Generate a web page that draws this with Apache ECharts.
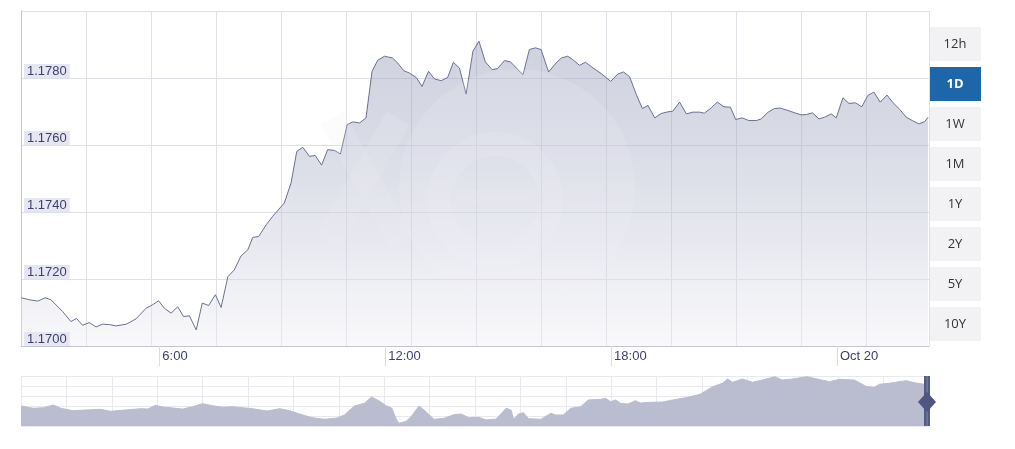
<!DOCTYPE html>
<html>
<head>
<meta charset="utf-8">
<script src="https://cdn.jsdelivr.net/npm/echarts@6/dist/echarts.min.js"></script>
<style>
html,body{margin:0;padding:0;background:#fff;}
#chart{width:1015px;height:449px;}
</style>
</head>
<body>
<div id="chart"></div>
<script>
// Main series: hours since 00:00 Oct 19 and EUR/USD-style rate
const timeHours = [2.33,2.55,2.77,2.97,3.12,3.43,3.65,3.80,3.96,4.14,4.32,4.49,4.67,4.85,5.12,5.38,5.65,5.82,5.98,6.13,6.31,6.49,6.64,6.80,6.98,7.14,7.31,7.49,7.64,7.82,7.99,8.17,8.35,8.48,8.64,8.84,9.01,9.32,9.50,9.65,9.81,9.99,10.14,10.31,10.47,10.65,10.81,10.99,11.14,11.32,11.49,11.65,11.80,11.98,12.19,12.33,12.49,12.64,12.82,12.98,13.15,13.31,13.49,13.66,13.81,13.97,14.15,14.33,14.49,14.66,14.84,14.98,15.17,15.33,15.48,15.66,15.83,15.99,16.14,16.34,16.54,16.68,16.85,16.98,17.16,17.32,17.52,17.74,17.99,18.18,18.33,18.49,18.67,18.83,18.98,19.16,19.33,19.51,19.64,19.82,20.00,20.17,20.35,20.48,20.66,20.82,21.00,21.17,21.31,21.48,21.66,21.86,21.99,22.17,22.34,22.50,22.70,22.88,23.05,23.19,23.35,23.52,23.67,23.85,23.98,24.16,24.32,24.49,24.66,24.82,24.98,25.15,25.33,25.49,25.67,25.84,26.00,26.18,26.33,26.42];
const rates = [1.17144,1.17138,1.17134,1.17144,1.17138,1.17103,1.17073,1.17082,1.17062,1.17070,1.17057,1.17065,1.17064,1.17060,1.17065,1.17081,1.17113,1.17123,1.17135,1.17113,1.17098,1.17117,1.17088,1.17090,1.17048,1.17128,1.17121,1.17153,1.17115,1.17207,1.17227,1.17269,1.17287,1.17324,1.17327,1.17362,1.17387,1.17427,1.17487,1.17581,1.17593,1.17566,1.17569,1.17540,1.17586,1.17584,1.17573,1.17661,1.17669,1.17666,1.17681,1.17820,1.17853,1.17865,1.17860,1.17845,1.17822,1.17815,1.17802,1.17775,1.17820,1.17797,1.17792,1.17802,1.17847,1.17830,1.17752,1.17880,1.17910,1.17848,1.17825,1.17828,1.17852,1.17848,1.17830,1.17810,1.17885,1.17890,1.17885,1.17818,1.17845,1.17860,1.17865,1.17855,1.17838,1.17847,1.17830,1.17813,1.17790,1.17812,1.17818,1.17804,1.17751,1.17709,1.17718,1.17681,1.17694,1.17699,1.17701,1.17728,1.17693,1.17698,1.17698,1.17695,1.17711,1.17728,1.17714,1.17713,1.17676,1.17681,1.17673,1.17673,1.17678,1.17698,1.17709,1.17710,1.17703,1.17696,1.17690,1.17691,1.17696,1.17678,1.17683,1.17693,1.17681,1.17741,1.17724,1.17726,1.17714,1.17748,1.17758,1.17728,1.17749,1.17726,1.17706,1.17683,1.17673,1.17663,1.17670,1.17683];

const xTickHours = [6, 12, 18, 24];
const xTickLabels = ['6:00', '12:00', '18:00', 'Oct 20'];

// Navigator (long history) series
const navDays = [0,5,9,13,16,21,26,32,36,42,48,51,54,57,61,65,69,73,77,81,85,89,93,99,104,108,112,117,122,127,130,134,138,141,144,147,149,151,152,155,157,160,162,166,170,174,177,180,184,187,191,195,197,198,200,202,204,209,213,215,218,221,225,228,233,235,237,239,241,244,247,249,253,258,262,268,273,278,282,284,286,290,294,298,303,306,310,316,320,325,329,335,337,340,343,345,349,353,356,359,363,365];
const navRates = [1.1400,1.1354,1.1366,1.1420,1.1354,1.1306,1.1320,1.1334,1.1294,1.1320,1.1346,1.1340,1.1414,1.1380,1.1360,1.1340,1.1386,1.1446,1.1406,1.1374,1.1386,1.1366,1.1346,1.1300,1.1346,1.1306,1.1240,1.1166,1.1134,1.1160,1.1220,1.1400,1.1454,1.1580,1.1500,1.1400,1.1360,1.1120,1.1054,1.1100,1.1200,1.1400,1.1320,1.1134,1.1154,1.1226,1.1240,1.1166,1.1174,1.1120,1.1140,1.1354,1.1320,1.1134,1.1240,1.1266,1.1146,1.1134,1.1254,1.1220,1.1220,1.1354,1.1386,1.1520,1.1534,1.1554,1.1486,1.1520,1.1454,1.1440,1.1506,1.1460,1.1474,1.1480,1.1520,1.1574,1.1634,1.1786,1.1854,1.1940,1.1874,1.1940,1.1874,1.1920,1.1986,1.1920,1.1940,1.1986,1.1940,1.1886,1.1934,1.1920,1.1866,1.1786,1.1774,1.1834,1.1854,1.1886,1.1906,1.1866,1.1834,1.1834];

const rangeButtons = ['12h', '1D', '1W', '1M', '1Y', '2Y', '5Y', '10Y'];
const activeButton = '1D';

const mainData = timeHours.map((t, i) => [t, rates[i]]);
const navData = navDays.map((d, i) => [d, navRates[i]]);

const chart = echarts.init(document.getElementById('chart'), null, {renderer: 'canvas'});

const gridColor = '#e0e0e7';
const textColor = '#3d3f6c';
const font = 'Liberation Sans, Arial, sans-serif';

const graphics = [];
// Watermark (xe logo, faint)
graphics.push({type: 'circle', silent: true, z: 50, shape: {cx: 517, cy: 187, r: 118}, style: {fill: 'rgba(240,241,247,0.16)'}});
graphics.push({type: 'ring', silent: true, z: 50, shape: {cx: 495, cy: 200, r: 68, r0: 44}, style: {fill: 'rgba(240,241,247,0.16)'}});
graphics.push({type: 'rect', silent: true, z: 50, shape: {x: 455, y: 190, width: 80, height: 14}, style: {fill: 'rgba(240,241,247,0.14)'}});
graphics.push({type: 'line', silent: true, z: 50, shape: {x1: 332, y1: 118, x2: 402, y2: 242}, style: {stroke: 'rgba(236,237,243,0.18)', lineWidth: 26}});
graphics.push({type: 'line', silent: true, z: 50, shape: {x1: 398, y1: 118, x2: 328, y2: 242}, style: {stroke: 'rgba(236,237,243,0.18)', lineWidth: 26}});

// Range buttons
rangeButtons.forEach((label, i) => {
  const cy = 44 + i * 40;
  const active = label === activeButton;
  graphics.push({
    type: 'rect', z: 100,
    shape: {x: 930, y: cy - 17, width: 51, height: 34},
    style: {fill: active ? '#1e66aa' : '#f2f2f5'}
  });
  graphics.push({
    type: 'text', z: 101,
    x: 955, y: cy,
    style: {
      text: label, align: 'center', verticalAlign: 'middle',
      fill: active ? '#ffffff' : '#333333',
      font: (active ? 'bold ' : '') + '13px "Open Sans", sans-serif'
    }
  });
});

// Navigator handle at the right end
graphics.push({type: 'rect', z: 100, shape: {x: 924, y: 376, width: 6, height: 50}, style: {fill: '#535b87'}});
graphics.push({type: 'rect', z: 101, shape: {x: 926.5, y: 376, width: 1.2, height: 50}, style: {fill: '#7a81a6'}});
graphics.push({type: 'polygon', z: 102, shape: {points: [[918, 402], [927, 392], [936, 402], [927, 412]]}, style: {fill: '#4e5681'}});

const option = {
  animation: false,
  backgroundColor: '#ffffff',
  grid: [
    {left: 21, top: 11, width: 908, height: 335, containLabel: false},
    {left: 21, top: 376, width: 908, height: 50, containLabel: false}
  ],
  xAxis: [
    {
      type: 'value', gridIndex: 0, min: 2.325, max: 26.445, z: 10,
      axisLine: {show: true, lineStyle: {color: '#c3c4cf', width: 1}},
      axisTick: {show: true, customValues: xTickHours, length: 20, lineStyle: {color: '#dcdce3'}},
      axisLabel: {
        show: true, customValues: xTickHours, align: 'left', margin: 4,
        padding: [0, 0, 0, 3], color: textColor, fontSize: 13, fontFamily: font,
        formatter: (v) => { const i = xTickHours.indexOf(v); return i >= 0 ? xTickLabels[i] : ''; }
      },
      splitLine: {show: false}
    },
    {
      type: 'value', gridIndex: 0, min: 0, max: 13.963, interval: 1,
      axisLine: {show: false}, axisTick: {show: false}, axisLabel: {show: false},
      splitLine: {show: true, lineStyle: {color: gridColor, width: 1}}
    },
    {
      type: 'value', gridIndex: 1, min: 0, max: 365, show: false,
      splitLine: {show: false}
    },
    {
      type: 'value', gridIndex: 1, min: 0, max: 20, interval: 1,
      axisLine: {show: false}, axisTick: {show: false}, axisLabel: {show: false},
      splitLine: {show: true, lineStyle: {color: '#e8e8ee', width: 1}}
    }
  ],
  yAxis: [
    {
      type: 'value', gridIndex: 0, position: 'left', min: 1.17, max: 1.18, interval: 0.002,
      axisLine: {show: true, lineStyle: {color: '#c3c4cf', width: 1}},
      axisTick: {show: false},
      axisLabel: {show: false},
      splitLine: {show: true, lineStyle: {color: gridColor, width: 1}}
    },
    {
      type: 'value', gridIndex: 1, position: 'left', min: 1.10, max: 1.20, interval: 0.02,
      axisLine: {show: false}, axisTick: {show: false}, axisLabel: {show: false},
      splitLine: {show: true, lineStyle: {color: '#e8e8ee', width: 1}}
    },
    {
      // label-only copy of the main value axis, drawn above the area
      type: 'value', gridIndex: 0, position: 'left', offset: 0,
      min: 1.17, max: 1.18, interval: 0.002, z: 20,
      axisLine: {show: false, onZero: false}, axisTick: {show: false}, splitLine: {show: false},
      axisLabel: {
        inside: true, margin: 3, verticalAlign: 'bottom', showMaxLabel: false,
        backgroundColor: '#e5e6f1', padding: [1, 3, 0, 3], lineHeight: 13,
        color: textColor, fontSize: 13, fontFamily: font,
        formatter: (v) => v.toFixed(4)
      }
    }
  ],
  series: [
    {
      type: 'line', xAxisIndex: 0, yAxisIndex: 0, data: mainData,
      symbol: 'none', smooth: false, z: 3,
      lineStyle: {color: '#6d7090', width: 1},
      areaStyle: {
        origin: 'start',
        color: new echarts.graphic.LinearGradient(0, 0, 0, 1, [
          {offset: 0, color: 'rgba(140,146,178,0.6)'},
          {offset: 0.35, color: 'rgba(165,170,196,0.6)'},
          {offset: 0.7, color: 'rgba(205,207,222,0.6)'},
          {offset: 1, color: 'rgba(240,240,245,0.6)'}
        ])
      }
    },
    {
      type: 'line', xAxisIndex: 2, yAxisIndex: 1, data: navData,
      symbol: 'none', smooth: false, z: 3,
      lineStyle: {color: '#b9bdcf', width: 1},
      areaStyle: {origin: 'start', color: '#b9bdcf', opacity: 1}
    }
  ],
  graphic: graphics
};

chart.setOption(option);
</script>
</body>
</html>
